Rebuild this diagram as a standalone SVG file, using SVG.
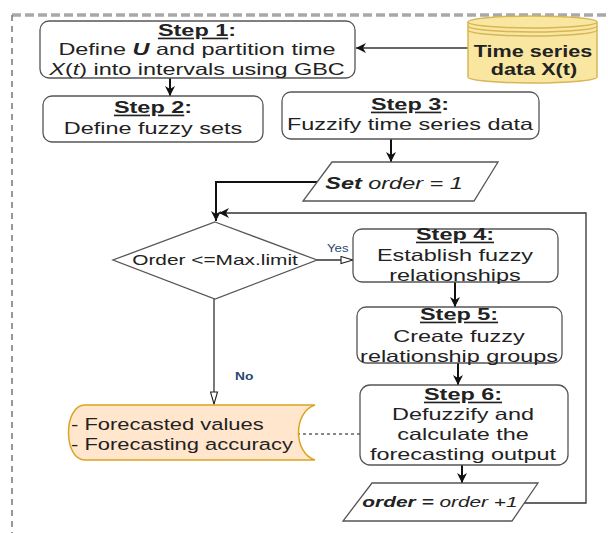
<svg xmlns="http://www.w3.org/2000/svg" width="608" height="533" viewBox="0 0 608 533">
<style>
text{font-family:"Liberation Sans",Arial,sans-serif;fill:#222;}
.t{font-size:16.5px;text-anchor:middle;}
.b{font-weight:bold;}
.i{font-style:italic;}
.u{text-decoration:underline;}
.box{fill:#fff;stroke:#555;stroke-width:1.3;}
.c{fill:none;stroke:#111;stroke-width:2;}
.cl{fill:none;stroke:#333;stroke-width:1.3;}
.lbl{font-size:11px;fill:#2a4672;}
</style>
<defs>
<marker id="arr" viewBox="0 0 10 10" refX="10" refY="5" markerWidth="11" markerHeight="10" markerUnits="userSpaceOnUse" orient="auto">
<path d="M0,0 L10,5 L0,10 L3,5 z" fill="#111"/>
</marker>
<marker id="open" viewBox="-1 -1 14 9" refX="12" refY="3.5" markerWidth="14" markerHeight="9" markerUnits="userSpaceOnUse" orient="auto">
<path d="M0,0 L12,3.5 L0,7 z" fill="#fff" stroke="#222" stroke-width="1.1"/>
</marker>
</defs>
<g id="frame">
<path d="M12,15 L608,15" stroke="#a8a8a8" stroke-width="3.5" stroke-dasharray="9,4" fill="none"/>
<path d="M12,15 L12,533" stroke="#777" stroke-width="1.5" stroke-dasharray="6,5" fill="none"/>
</g>
<g id="connectors">
<path class="cl" d="M468,48 L356,48" stroke-width="1.6" marker-end="url(#arr)"/>
<path class="c" d="M170,78 L170,96" marker-end="url(#arr)"/>
<path class="c" d="M391,139 L391,162" marker-end="url(#arr)"/>
<path class="c" d="M317,182 L216,182 L216,221" marker-end="url(#arr)"/>
<path class="cl" d="M317,260 L353,260" marker-end="url(#open)"/>
<path class="c" d="M455,282 L455,307" marker-end="url(#arr)"/>
<path class="c" d="M458,363 L458,385" marker-end="url(#arr)"/>
<path class="c" d="M462,465 L462,483" marker-end="url(#arr)"/>
<path class="cl" d="M524,503 L586,503 L586,213 L219,213" marker-end="url(#arr)"/>
<path class="cl" d="M214,299 L214,404" marker-end="url(#open)"/>
<path d="M297,434 L360,434" stroke="#111" stroke-width="1" stroke-dasharray="3,3" fill="none"/>
<text class="lbl" transform="translate(327,0) scale(1.2,1)" x="0" y="252">Yes</text>
<text class="lbl b" transform="translate(235,0) scale(1.25,1)" x="0" y="380">No</text>
</g>
<g id="step1">
<rect class="box" x="40" y="21" width="315" height="57" rx="9"/>
<text class="t b" transform="translate(197,0) scale(1.42,1)" x="0" y="36"><tspan class="u">Step 1</tspan>:</text>
<text class="t" transform="translate(197,0) scale(1.42,1)" x="0" y="55">Define <tspan class="b i">U</tspan> and partition time</text>
<text class="t" transform="translate(197,0) scale(1.42,1)" x="0" y="75"><tspan class="i">X</tspan>(<tspan class="i">t</tspan>) into intervals using GBC</text>
</g>
<g id="timeseries">
<path d="M468,22 L468,77 A64.5,6 0 0 0 597,77 L597,22 A64.5,6 0 0 0 468,22 Z" fill="#f9e6a0" stroke="#d6b656" stroke-width="1.5"/>
<path d="M468,22 A64.5,6 0 0 0 597,22 M468,26 A64.5,6 0 0 0 597,26 M468,30 A64.5,6 0 0 0 597,30" fill="none" stroke="#d6b656" stroke-width="1.5"/>
<text class="t b" style="font-size:16px" transform="translate(533,0) scale(1.35,1)" x="0" y="57">Time series</text>
<text class="t b" style="font-size:16px" transform="translate(534,0) scale(1.35,1)" x="0" y="75">data X(t)</text>
</g>
<g id="step2">
<rect class="box" x="43" y="96" width="220" height="46" rx="9"/>
<text class="t b" transform="translate(153,0) scale(1.42,1)" x="0" y="113"><tspan class="u">Step 2</tspan>:</text>
<text class="t" transform="translate(153,0) scale(1.42,1)" x="0" y="134">Define fuzzy sets</text>
</g>
<g id="step3">
<rect class="box" x="282" y="92" width="257" height="47" rx="9"/>
<text class="t b" transform="translate(410,0) scale(1.42,1)" x="0" y="110"><tspan class="u">Step 3</tspan>:</text>
<text class="t" transform="translate(410,0) scale(1.42,1)" x="0" y="130">Fuzzify time series data</text>
</g>
<g id="setorder">
<path class="box" d="M332,162 L498,162 L474,201 L303,201 Z"/>
<text class="t" transform="translate(394,0) scale(1.42,1)" x="0" y="189"><tspan class="b i">Set</tspan><tspan class="i"> order = 1</tspan></text>
</g>
<g id="decision">
<path class="box" d="M215,222 L317,260 L215,299 L113,260 Z"/>
<text class="t" style="font-size:15px" transform="translate(215,0) scale(1.39,1)" x="0" y="265">Order &lt;=Max.limit</text>
</g>
<g id="step4">
<rect class="box" x="353" y="229" width="205" height="53" rx="9"/>
<text class="t b u" transform="translate(455,0) scale(1.42,1)" x="0" y="240">Step 4:</text>
<text class="t" transform="translate(455,0) scale(1.42,1)" x="0" y="261">Establish fuzzy</text>
<text class="t" transform="translate(455,0) scale(1.42,1)" x="0" y="281">relationships</text>
</g>
<g id="step5">
<rect class="box" x="357" y="307" width="205" height="56" rx="9"/>
<text class="t b u" transform="translate(459,0) scale(1.42,1)" x="0" y="320">Step 5:</text>
<text class="t" transform="translate(459,0) scale(1.42,1)" x="0" y="342">Create fuzzy</text>
<text class="t" transform="translate(459,0) scale(1.42,1)" x="0" y="362">relationship groups</text>
</g>
<g id="step6">
<rect class="box" x="360" y="385" width="208" height="80" rx="10"/>
<text class="t b u" transform="translate(463,0) scale(1.42,1)" x="0" y="400">Step 6:</text>
<text class="t" transform="translate(463,0) scale(1.42,1)" x="0" y="420">Defuzzify and</text>
<text class="t" transform="translate(463,0) scale(1.42,1)" x="0" y="440">calculate the</text>
<text class="t" transform="translate(463,0) scale(1.42,1)" x="0" y="460">forecasting output</text>
</g>
<g id="orderplus">
<path class="box" d="M372,483 L538,483 L512,521 L343,521 Z"/>
<text class="t" style="font-size:15px" transform="translate(440,0) scale(1.39,1)" x="0" y="507"><tspan class="b i">order =</tspan><tspan class="i"> order +1</tspan></text>
</g>
<g id="output">
<path d="M85,405 L315,405 C293,412 293,453 315,460 L85,460 C63,460 63,405 85,405 Z" fill="#ffe6cc" stroke="#d9a521" stroke-width="1.5"/>
<text style="font-size:16.5px" transform="translate(71,0) scale(1.33,1)" x="0" y="430">- Forecasted values</text>
<text style="font-size:16.5px" transform="translate(71,0) scale(1.33,1)" x="0" y="450">- Forecasting accuracy</text>
</g>
</svg>
